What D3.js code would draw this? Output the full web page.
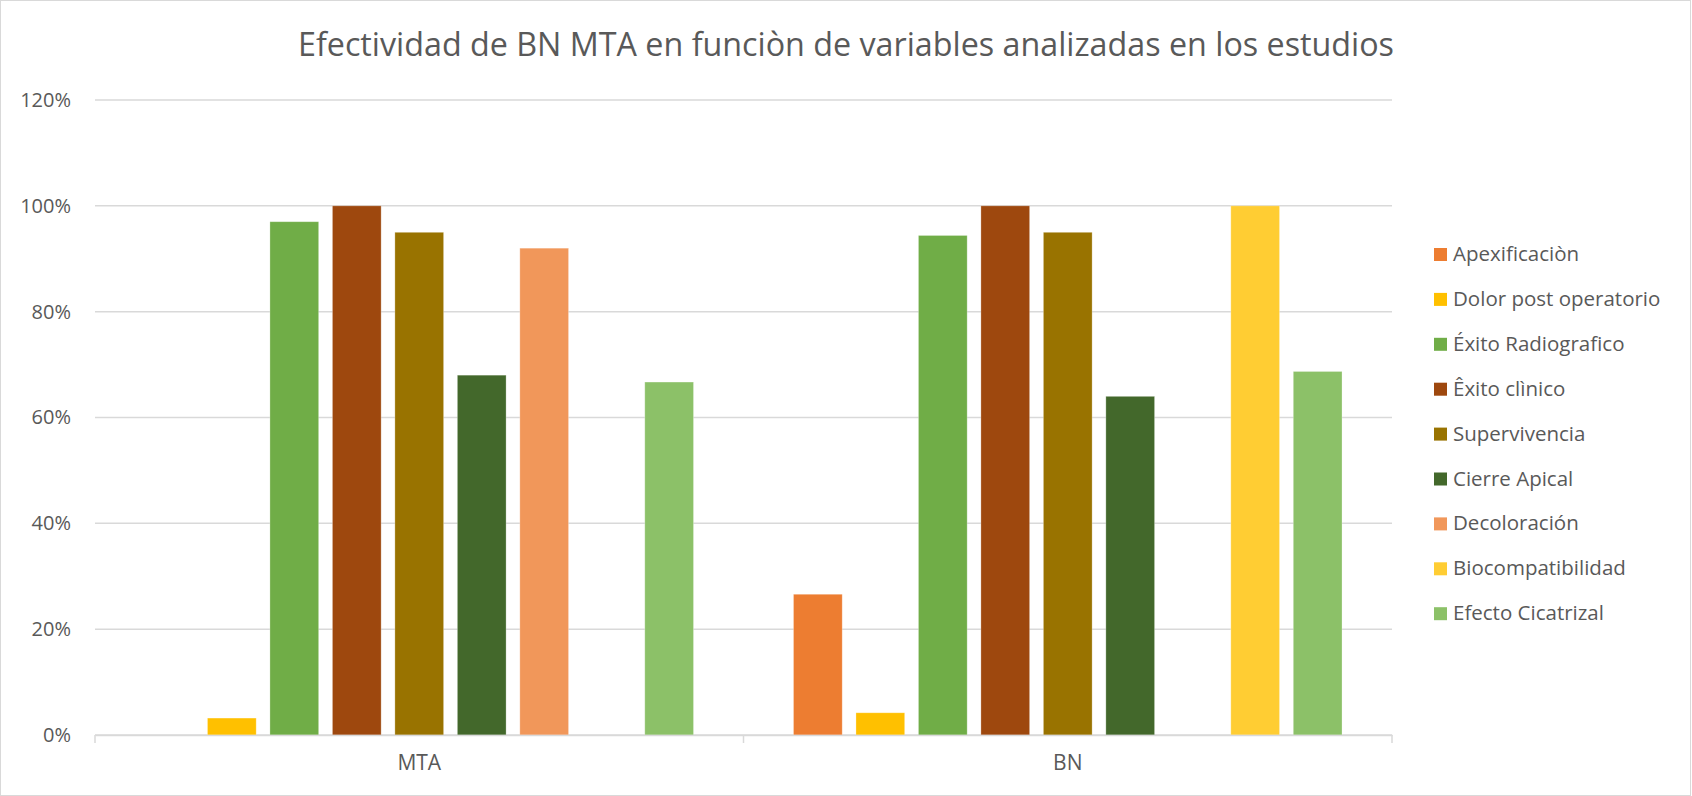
<!DOCTYPE html>
<html>
<head>
<meta charset="utf-8">
<script src="https://cdn.jsdelivr.net/npm/d3@7"></script>
<style>
  body { margin: 0; background: #fff; }
  text { font-family: "Open Sans", "Noto Sans", sans-serif; fill: #595959; }
</style>
</head>
<body>
<div id="chart"></div>
<script>
// categories on the x axis
var groups = ["MTA", "BN"];

// series (legend order) and their colours
var series = ["Apexificaciòn", "Dolor post operatorio", "Éxito Radiografico", "Êxito clìnico",
  "Supervivencia", "Cierre Apical", "Decoloración", "Biocompatibilidad", "Efecto Cicatrizal"];
var colors = ["#ED7D31", "#FFC000", "#70AD47", "#9E480E", "#997300", "#43682B", "#F1975A", "#FFCD33", "#8CC168"];

// values per series, in the order of groups
var valuesMTA = [0, 0.032, 0.97, 1.00, 0.95, 0.68, 0.92, 0, 0.667];
var valuesBN = [0.266, 0.042, 0.944, 1.00, 0.95, 0.64, 0, 1.00, 0.687];

var yTicks = [0, 0.2, 0.4, 0.6, 0.8, 1.0, 1.2];

var width = 1692, height = 796;
var margin = { top: 100, right: 300, bottom: 61, left: 95 };

var svg = d3.select("#chart").append("svg")
    .attr("width", width)
    .attr("height", height);

// chart border
svg.append("rect")
    .attr("x", 0.5).attr("y", 0.5)
    .attr("width", width - 2).attr("height", height - 1)
    .attr("fill", "#fff")
    .attr("stroke", "#d9d9d9");

var x0 = d3.scaleBand()
    .domain(groups)
    .range([margin.left, width - margin.right])
    .padding(0);

var x1 = d3.scaleBand()
    .domain(series)
    .range([0, x0.bandwidth()])
    .paddingInner(0.22)
    .paddingOuter(0.8);

var y = d3.scaleLinear()
    .domain([0, 1.2])
    .range([height - margin.bottom, margin.top]);

// gridlines
svg.append("g")
    .selectAll("line")
    .data(yTicks)
    .join("line")
    .attr("x1", margin.left)
    .attr("x2", width - margin.right)
    .attr("y1", d => y(d))
    .attr("y2", d => y(d))
    .attr("stroke", "#d9d9d9")
    .attr("stroke-width", 1.5);

// y axis labels
var yAxis = svg.append("g")
    .attr("transform", "translate(" + margin.left + ",0)")
    .call(d3.axisLeft(y).tickValues(yTicks).tickFormat(d3.format(".0%")).tickSize(0).tickPadding(24));
yAxis.select(".domain").remove();
yAxis.selectAll("text")
    .style("font-size", "20px")
    .attr("fill", "#595959");

// bars
var data = groups.map(function (g, i) {
    var vals = i === 0 ? valuesMTA : valuesBN;
    return { group: g, items: series.map((s, j) => ({ key: s, value: vals[j], color: colors[j] })) };
});

svg.append("g")
    .selectAll("g")
    .data(data)
    .join("g")
    .attr("transform", d => "translate(" + x0(d.group) + ",0)")
    .selectAll("rect")
    .data(d => d.items.filter(it => it.value > 0))
    .join("rect")
    .attr("x", d => x1(d.key))
    .attr("width", x1.bandwidth())
    .attr("y", d => y(d.value))
    .attr("height", d => y(0) - y(d.value))
    .attr("fill", d => d.color)
    .attr("stroke", "#ffffff")
    .attr("stroke-opacity", 0.35)
    .attr("stroke-width", 0.8);

// x axis
var xAxis = svg.append("g")
    .attr("transform", "translate(0," + y(0) + ")")
    .call(d3.axisBottom(x0).tickSize(0).tickPadding(20));
xAxis.select(".domain").attr("stroke", "#d9d9d9").attr("stroke-width", 1.5);
xAxis.selectAll("text").style("font-size", "21px").attr("fill", "#595959");

// category separators (ticks between groups)
var sep = [margin.left, x0("BN"), width - margin.right];
xAxis.append("g")
    .selectAll("line")
    .data(sep)
    .join("line")
    .attr("x1", d => d).attr("x2", d => d)
    .attr("y1", 0).attr("y2", 8)
    .attr("stroke", "#d9d9d9")
    .attr("stroke-width", 1.5);

// title
svg.append("text")
    .attr("x", width / 2)
    .attr("y", 56)
    .attr("text-anchor", "middle")
    .attr("textLength", 1096)
    .attr("lengthAdjust", "spacingAndGlyphs")
    .style("font-size", "32.5px")
    .text("Efectividad de BN MTA en funciòn de variables analizadas en los estudios");

// legend
var legend = svg.append("g")
    .attr("transform", "translate(1434,248)");

var item = legend.selectAll("g")
    .data(series)
    .join("g")
    .attr("transform", (d, i) => "translate(0," + (i * 44.9) + ")");

item.append("rect")
    .attr("width", 13)
    .attr("height", 13)
    .attr("fill", (d, i) => colors[i]);

item.append("text")
    .attr("x", 19)
    .attr("y", 13)
    .style("font-size", "20.5px")
    .text(d => d);
</script>
</body>
</html>
